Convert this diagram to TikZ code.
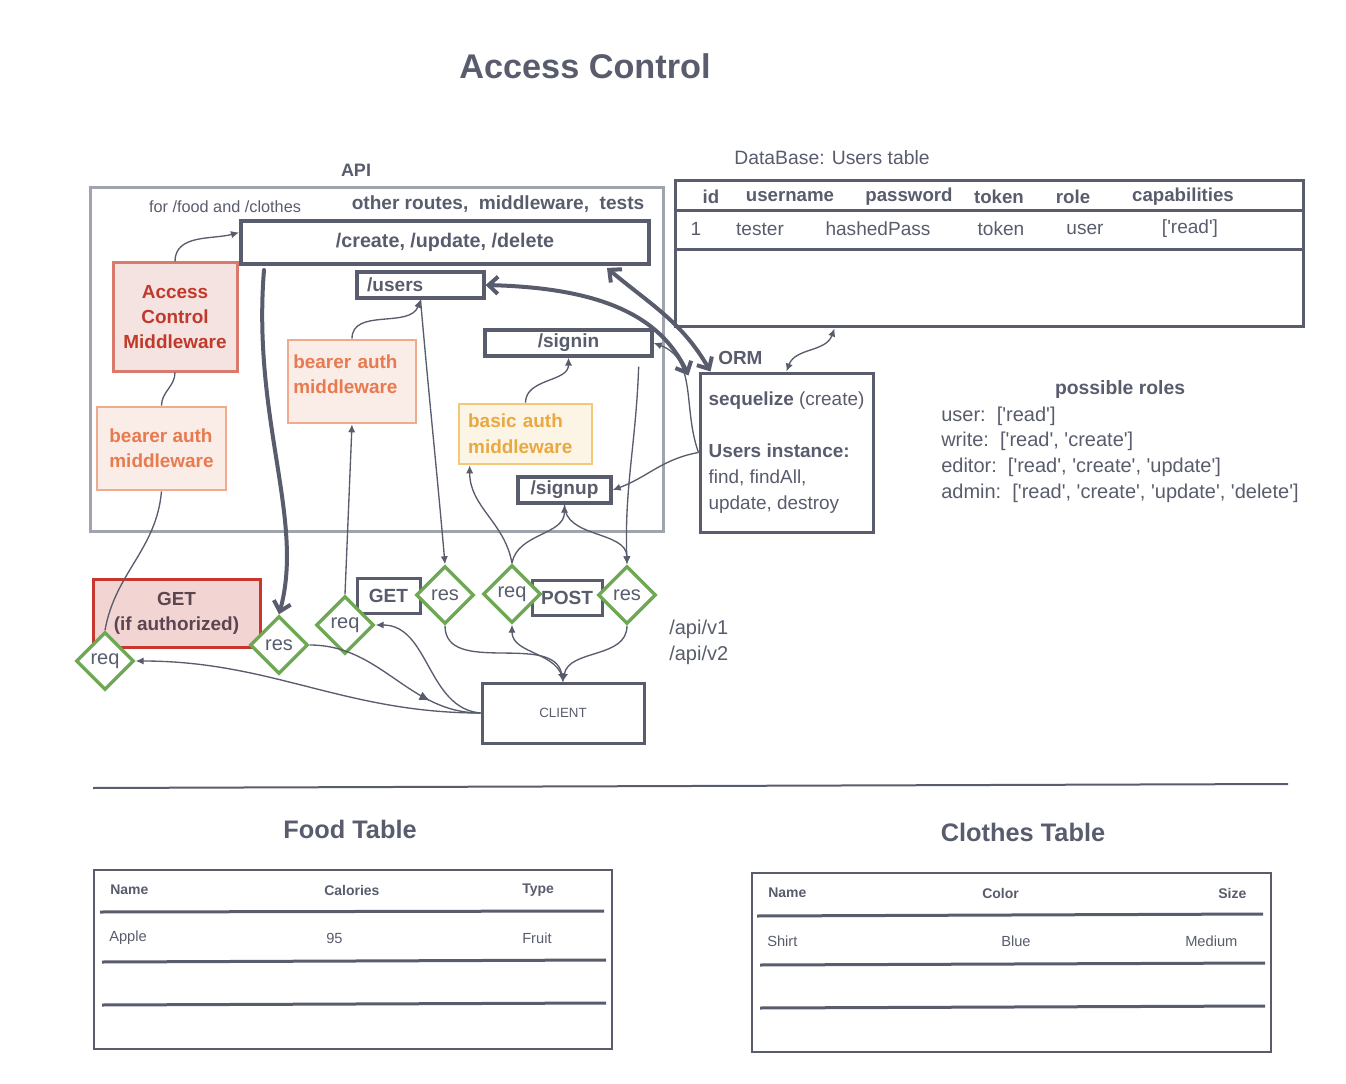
\documentclass[tikz,border=0pt]{standalone}
\usepackage{fontspec}
\setmainfont{Liberation Sans}[Ligatures=TeXOff]
\usetikzlibrary{shapes.geometric}
\usetikzlibrary{arrows.meta}
\usetikzlibrary{decorations.markings}
\definecolor{Inkgray}{RGB}{88,92,108}
\definecolor{Framegray}{RGB}{160,164,174}
\definecolor{Leafgreen}{RGB}{110,168,84}
\definecolor{Roseline}{RGB}{217,122,110}
\definecolor{Rosefill}{RGB}{245,227,225}
\definecolor{Rosetext}{RGB}{192,57,43}
\definecolor{Peachline}{RGB}{240,170,140}
\definecolor{Peachfill}{RGB}{250,236,230}
\definecolor{Peachtext}{RGB}{232,122,80}
\definecolor{Sandline}{RGB}{243,200,120}
\definecolor{Sandfill}{RGB}{252,245,230}
\definecolor{Sandtext}{RGB}{233,168,64}
\definecolor{Brickline}{RGB}{200,55,45}
\definecolor{Brickfill}{RGB}{242,212,210}
\definecolor{Bricktext}{RGB}{90,70,80}

\begin{document}
\begin{tikzpicture}[x=0.75pt, y=-0.75pt,
            every node/.style={text=Inkgray, font=\fontsize{14.3}{17}\selectfont},
            route/.style={draw=Inkgray, line width=2.5pt, inner sep=0pt, minimum height=19.5pt, font=\fontsize{14.3}{17}\selectfont\bfseries},
            verb/.style={draw=Inkgray, line width=2.25pt, inner sep=0pt, minimum height=26.25pt, font=\fontsize{14.3}{17}\selectfont\bfseries},
            accessbox/.style={draw=Roseline, fill=Rosefill, text=Rosetext, line width=2.25pt, inner sep=0pt, align=center, font=\fontsize{14.2}{18.75}\selectfont\bfseries},
            bearerbox/.style={draw=Peachline, fill=Peachfill, text=Peachtext, line width=2pt, inner sep=0pt, align=left, font=\fontsize{14.2}{18.75}\selectfont\bfseries},
            basicbox/.style={draw=Sandline, fill=Sandfill, text=Sandtext, line width=2pt, inner sep=0pt, align=left, font=\fontsize{14.2}{19.5}\selectfont\bfseries},
            gate/.style={diamond, draw=Leafgreen, line width=2.6pt, fill=white, inner sep=0pt, minimum width=43.5pt, minimum height=43.5pt, font=\fontsize{15}{17}\selectfont},
            link/.style={Inkgray, line width=1pt, >={Latex[length=6pt,width=5.5pt]}},
            heavy/.style={Inkgray, line width=3pt, line cap=round, >={Straight Barb[length=7pt,width=13pt]}},
            rowline/.style={Inkgray, line width=2.25pt},
            roleline/.style={anchor=west, inner sep=0pt, font=\fontsize{15}{17}\selectfont},
            cell/.style={anchor=west, inner sep=0pt, font=\fontsize{11}{13}\selectfont},
            cellhead/.style={anchor=west, inner sep=0pt, font=\fontsize{10.5}{12}\selectfont\bfseries},
            sheettitle/.style={font=\fontsize{19}{22}\selectfont\bfseries}
        ]
            \useasboundingbox (0,0) rectangle (1346,1084);
            \node[font=\fontsize{25.7}{30}\selectfont\bfseries] (title) at (585,66) {Access Control};

            \node[font=\fontsize{13.5}{16}\selectfont\bfseries] (apilabel) at (356,170) {API};
            \node[draw=Framegray, line width=2.25pt, minimum width=429.75pt, minimum height=257.25pt] (api) at (376.5,359.5) {};
            \node[font=\fontsize{12.2}{14}\selectfont] (scope) at (225,207) {for /food and /clothes};
            \node[font=\fontsize{14.3}{17}\selectfont\bfseries] (extras) at (498,204) {other routes,\ \ middleware,\ \ tests};

            \node[route, line width=3pt, minimum width=306pt, minimum height=32.25pt, font=\fontsize{14.8}{17}\selectfont\bfseries] (crud) at (445,242.5) {/create, /update, /delete};
            \node[route, minimum width=95.25pt, text width=80pt, align=left] (users) at (420.5,285) {/users};
            \node[route, minimum width=125.25pt] (signin) at (568.5,343) {/signin};
            \node[route, minimum width=69.75pt] (signup) at (564.5,490) {/signup};

            \node[accessbox, minimum width=93pt, minimum height=81pt] (access) at (175,317) {Access\\Control\\Middleware};
            \node[bearerbox, minimum width=96.75pt, minimum height=62.25pt] (bearerA) at (161.5,448.5) {bearer auth\\middleware};
            \node[bearerbox, minimum width=96pt, minimum height=62.25pt, text width=88pt, text depth=30pt] (bearerB) at (352,381.5) {bearer auth\\middleware};
            \node[basicbox, minimum width=99.75pt, minimum height=45pt, text width=86pt] (basic) at (525.5,434) {basic auth\\middleware};

            \node[font=\fontsize{14.5}{17}\selectfont] (dblabel) at (832,158) {DataBase: Users table};
            \node[draw=Inkgray, line width=2.25pt, minimum width=471pt, minimum height=109.5pt] (db) at (989,254) {};
            \draw[rowline] (675,211) -- (1303,211);
            \draw[rowline] (675,250) -- (1303,250);
            \foreach \t/\x [count=\i] in {id/711, username/790, password/909, token/999, role/1073, capabilities/1183}
                \node[font=\fontsize{14}{17}\selectfont\bfseries] (dbhead\i) at (\x,197) {\t};
            \foreach \t/\x [count=\i] in {1/696, tester/760, hashedPass/878, token/1001, user/1085, {['read']}/1190}
                \node (dbrow\i) at (\x,229) {\t};

            \node[anchor=west, inner sep=0pt, font=\fontsize{14.2}{17}\selectfont\bfseries] (orm) at (718,358) {ORM};
            \node[draw=Inkgray, line width=2.25pt, minimum width=129.75pt, minimum height=119.25pt, align=left, inner sep=0pt, font=\fontsize{14.2}{19.5}\selectfont] (seq) at (786.5,452.5) {\textbf{sequelize} (create)\\[19.5pt]\textbf{Users instance:}\\find, findAll,\\update, destroy};

            \node[font=\fontsize{14.5}{17}\selectfont\bfseries] (roles) at (1120,390) {possible roles};
            \node[roleline] (roleA) at (941,416) {user:\ \ ['read']};
            \node[roleline] (roleB) at (941,441) {write:\ \ ['read', 'create']};
            \node[roleline] (roleC) at (941,467) {editor:\ \ ['read', 'create', 'update']};
            \node[roleline] (roleD) at (941,493) {admin:\ \ ['read', 'create', 'update', 'delete']};

            \node[roleline] (vone) at (669,629) {/api/v1};
            \node[roleline] (vtwo) at (669,655) {/api/v2};

            \node[draw=Brickline, fill=Brickfill, text=Bricktext, line width=2.25pt, inner sep=0pt, minimum width=125.25pt, minimum height=51pt, align=center, font=\fontsize{14.2}{18.75}\selectfont\bfseries] (getauth) at (176.5,613) {GET\\(if authorized)};
            \node[verb, minimum width=47.25pt] (get) at (388.5,595.5) {GET};
            \node[verb, minimum width=52.5pt] (post) at (567,597.5) {POST};

            \node[gate] (reqA) at (105,661) {req};
            \node[gate] (resA) at (279,645) {res};
            \node[gate] (reqB) at (345,625) {req};
            \node[gate] (resB) at (445,595) {res};
            \node[gate] (reqC) at (512,594) {req};
            \node[gate] (resC) at (627,595) {res};

            \node[draw=Inkgray, line width=2.25pt, minimum width=121.5pt, minimum height=45pt, font=\fontsize{10}{12}\selectfont] (client) at (563,713) {CLIENT};

            \draw[link, ->] (access.north) to[out=90, in=195] ([yshift=7.5pt]crud.west);
            \draw[link] (bearerA.north) to[out=90, in=270] (access.south);
            \draw[link] (bearerA.south) to[out=265, in=80] (reqA.north);
            \draw[link, ->] (client.west) to[out=180, in=0] (reqA.east);
            \draw[link, postaction={decorate}, decoration={markings, mark=at position 0.72 with {\arrow{Latex[length=8pt,width=7pt]}}}] (resA.east) to[out=0, in=180] (client.west);
            \draw[link, ->] (client.west) to[out=175, in=0] (reqB.east);
            \draw[heavy, ->] ([xshift=18.75pt, yshift=-3pt]crud.south west) .. controls (252,420) and (305,520) .. (resA.north);
            \draw[link, ->] (reqB.north) -- (bearerB.south);
            \draw[link, ->] (bearerB.north) to[out=90, in=250] (users.south);
            \draw[link, ->] (users.south) to[out=275, in=95] (resB.north);
            \draw[link, ->] (resB.south) to[out=270, in=100] (client.north);
            \draw[link, ->] (client.north) to[out=95, in=270] (reqC.south);
            \draw[link, ->] (resC.south) to[out=270, in=80] (client.north);
            \draw[link, ->] (reqC.north) to[out=100, in=270] ([xshift=9pt]basic.south west);
            \draw[link, ->] (reqC.north) to[out=80, in=270] (signup.south);
            \draw[link, ->] (signup.south) to[out=270, in=90] (resC.north);
            \draw[link, ->] (basic.north) to[out=90, in=270] (signin.south);
            \draw[link, ->] ([xshift=-11.25pt, yshift=-6.75pt]signin.south east) to[out=268, in=92] (resC.north);
            \draw[link, ->] (seq.west) to[out=110, in=-20] (signin.east);
            \draw[link, ->] (seq.west) to[out=190, in=20] (signup.east);
            \draw[heavy, <->] (users.east) .. controls (600,288) and (660,315) .. ([xshift=-7.5pt, yshift=-3pt]seq.north west);
            \draw[heavy, <->] ([xshift=-33pt, yshift=-1.5pt]crud.south east) to[out=-40, in=120] ([xshift=9pt]seq.north west);
            \draw[link, <->] ([xshift=120.75pt]db.south west) to[out=250, in=70] (seq.north);

            \draw[Inkgray, line width=1.5pt] (93,788) -- (1288,784);

            \node[sheettitle] (foodtitle) at (350,829) {Food Table};
            \node[draw=Inkgray, line width=1.9pt, minimum width=388.5pt, minimum height=134.25pt] (food) at (353,959.5) {};
            \draw[rowline] (100,912) -- (604,911);
            \draw[rowline] (102,962) -- (606,960);
            \draw[rowline] (102,1005) -- (606,1003);
            \foreach \t/\x [count=\i] in {Name/110, Calories/324, Type/522}
                \node[cellhead] (foodhead\i) at (\x,890) {\t};
            \foreach \t/\x [count=\i] in {Apple/109, 95/326, Fruit/522}
                \node[cell] (foodrow\i) at (\x,938) {\t};

            \node[sheettitle] (clothestitle) at (1023,832) {Clothes Table};
            \node[draw=Inkgray, line width=1.9pt, minimum width=389.25pt, minimum height=134.25pt] (clothes) at (1011.5,962.5) {};
            \draw[rowline] (757,916) -- (1263,914);
            \draw[rowline] (760,965) -- (1265,963);
            \draw[rowline] (760,1008) -- (1265,1006);
            \foreach \t/\x [count=\i] in {Name/768, Color/982, Size/1218}
                \node[cellhead] (clotheshead\i) at (\x,893) {\t};
            \foreach \t/\x [count=\i] in {Shirt/767, Blue/1001, Medium/1185}
                \node[cell] (clothesrow\i) at (\x,941) {\t};
        \end{tikzpicture}
\end{document}
